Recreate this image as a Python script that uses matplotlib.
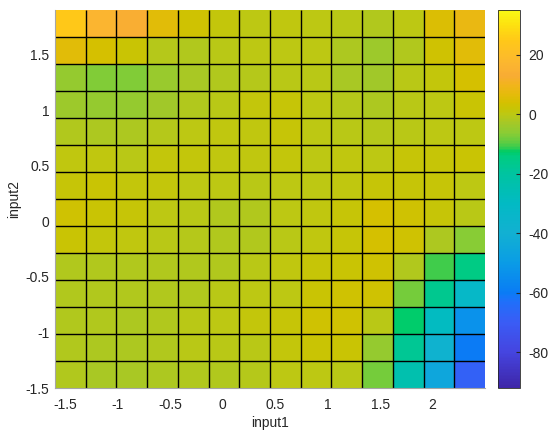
import numpy as np
import matplotlib
matplotlib.use("Agg")
import matplotlib.pyplot as plt
from matplotlib.colors import LinearSegmentedColormap

plt.rcParams["font.family"] = ["Liberation Sans", "DejaVu Sans"]
plt.rcParams["font.size"] = 10
plt.rcParams["axes.unicode_minus"] = False

# grid edges (input1 / input2)
x_edges = np.linspace(-1.6, 2.5, 15)
y_edges = np.linspace(-1.5, 1.9, 15)

# cell values, listed from the top row (input2 high) down
rows_top_down = [
    [25, 17, 14, 6, 3, 1, 0, 0.5, 0, -0.5, -1.5, 0, 5, 8],
    [6, 4, 2, -1, -1.5, -0.5, 0, 0, 0, -2, -4, -1.5, 3, 6],
    [-5, -7, -7, -4.5, -2.5, -1.5, -1, -0.5, -0.5, -2.5, -3.5, -0.5, 1, 4],
    [-4, -5, -5, -3.5, -1.5, -0.5, 1, 1.5, 0, -1, -2, -0.5, 0, 2],
    [-1.5, -2, -2, -1, 0, 0.5, 0.5, 1.5, 0, -0.5, -1, -0.5, 0, 0],
    [0.5, 0.5, -0.5, 1, 1, 0.5, 0.5, 1, 0, 0.5, 0, 1.5, 1.5, 2],
    [1.5, 2, 1, 1, 0, 0, -0.5, 0, 0, 0.5, 1.5, 1.5, 1.5, 0],
    [3, 2, 1.5, 0, -0.5, -1.5, -1.5, 0, 0.5, 1.5, 4, 3, 1.5, -0.5],
    [2, 1, 0.5, -0.5, -1, -1.5, -1.5, -0.5, 0.5, 1.5, 4, 3, -2, -6.5],
    [-1.5, -1.5, -1.5, -1.5, -1.5, -1.5, -0.5, 0.5, 1.5, 2, 3, -1.5, -11, -15],
    [-1.5, -1.5, -1.5, -1.5, -1.5, -0.5, 0, 0, 2, 3, 3, -8, -17, -32],
    [-1.5, -1.5, -2, -1.5, -0.5, 0, 1, 1.5, 3, 3, -0.5, -13, -29, -53],
    [-1.5, -2, -2, -1.5, -0.5, -0.5, -0.5, 1, 2, 2, -5, -18, -38, -60],
    [-1.5, -2.5, -2.5, -2, -1.5, -1.5, -1, 0, 0, -0.5, -8, -24, -45, -68],
]
z = np.flipud(np.array(rows_top_down, dtype=float))

cmin, cmax = -92, 35
cbar_ticks = [-80, -60, -40, -20, 0, 20]
x_ticks = [-1.5, -1, -0.5, 0, 0.5, 1, 1.5, 2]
x_ticklabels = ["-1.5", "-1", "-0.5", "0", "0.5", "1", "1.5", "2"]
y_ticks = [-1.5, -1, -0.5, 0, 0.5, 1, 1.5]
y_ticklabels = ["-1.5", "-1", "-0.5", "0", "0.5", "1", "1.5"]

# parula-like map, anchors
anchors = [
    (-92, "#3e26a8"), (-80, "#4545e0"), (-70, "#3a5cf5"), (-63, "#1f70fa"),
    (-60, "#0a7cf5"), (-50, "#0a9ce6"), (-40, "#12b0d2"), (-30, "#02bac4"),
    (-20, "#00c4a0"), (-14, "#00cc80"), (-12.5, "#00cc66"), (-11, "#3ccc4c"),
    (-9, "#66cc40"), (-6, "#8ccc34"), (-3, "#a4c828"), (0, "#bcc814"),
    (2, "#c8c404"), (4, "#d4c000"), (7, "#e6ba0c"), (10, "#f2b41c"),
    (13, "#f8ac34"), (17, "#fbb530"), (20, "#fdbd28"), (25, "#ffc818"),
    (30, "#fde010"), (35, "#f9f914"),
]
cmap = LinearSegmentedColormap.from_list(
    "parula_ish", [((v - cmin) / (cmax - cmin), c) for v, c in anchors])

fig = plt.figure(figsize=(5.5, 4.4), dpi=100)
ax = fig.add_axes([55 / 550, 52 / 440, 430 / 550, 378 / 440])
cax = fig.add_axes([498 / 550, 52 / 440, 22 / 550, 378 / 440])

mesh = ax.pcolormesh(x_edges, y_edges, z, cmap=cmap, vmin=cmin, vmax=cmax,
                     shading="flat", edgecolors="none")
ax.vlines(x_edges[1:-1], y_edges[0], y_edges[-1], color="k", lw=1.0)
ax.hlines(y_edges[1:-1], x_edges[0], x_edges[-1], color="k", lw=1.0)

ax.set_xlim(x_edges[0], x_edges[-1])
ax.set_ylim(y_edges[0], y_edges[-1])
ax.set_xticks(x_ticks)
ax.set_xticklabels(x_ticklabels)
ax.set_yticks(y_ticks)
ax.set_yticklabels(y_ticklabels)
ax.tick_params(axis="x", length=0, pad=7, colors="#262626")
ax.tick_params(axis="y", length=0, pad=4, colors="#262626")
for side in ("top", "right"):
    ax.spines[side].set_visible(False)
for side in ("left", "bottom"):
    ax.spines[side].set_color("#a6a6a6")
    ax.spines[side].set_linewidth(0.8)
ax.set_xlabel("input1", color="#262626", labelpad=3)
ax.set_ylabel("input2", color="#262626", labelpad=3)

cb = fig.colorbar(mesh, cax=cax, ticks=cbar_ticks)
cb.set_ticklabels([str(t) for t in cbar_ticks])
cb.ax.tick_params(direction="in", length=3, width=0.8, color="#262626",
                  labelcolor="#262626", pad=6)
cb.outline.set_edgecolor("#262626")
cb.outline.set_linewidth(0.6)

fig.savefig("out.png", dpi=100)
